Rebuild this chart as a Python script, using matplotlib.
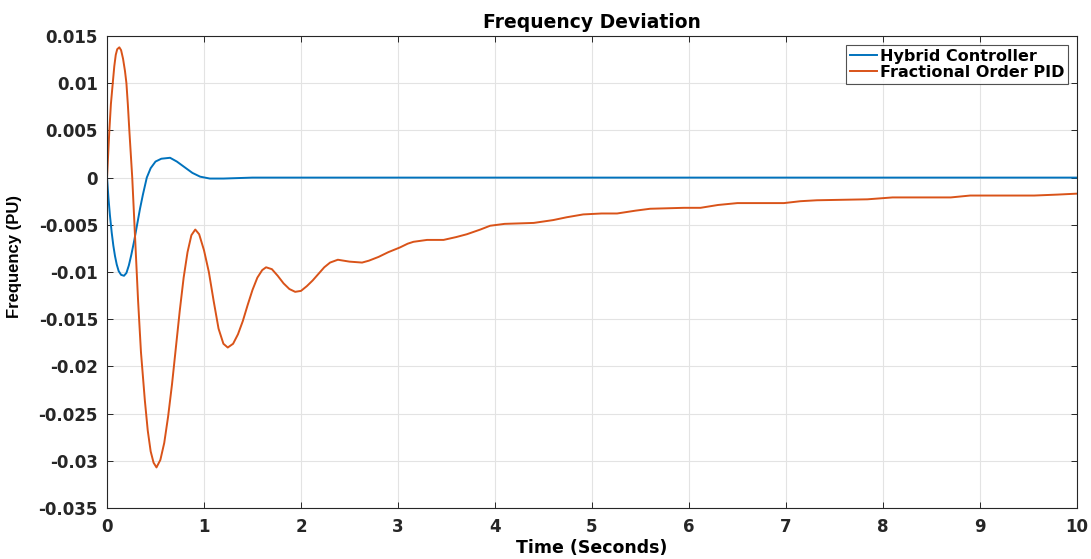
import matplotlib.pyplot as plt
import numpy as np

# values
t_hybrid = [0.0, 0.015, 0.03, 0.048, 0.065, 0.082, 0.10, 0.12, 0.145, 0.175, 0.20, 0.225,
            0.25, 0.28, 0.31, 0.34, 0.37, 0.41, 0.45, 0.50, 0.56, 0.65, 0.72, 0.80, 0.88,
            0.96, 1.06, 1.2, 1.5, 2.0, 10.0]
f_hybrid = [0.0, -0.0022, -0.0040, -0.0058, -0.0072, -0.0083, -0.0092, -0.0099, -0.0103, -0.0104, -0.0101, -0.0093,
            -0.0082, -0.0067, -0.0050, -0.0033, -0.0018, 0.0, 0.0010, 0.0017, 0.0020, 0.0021, 0.0017, 0.0011, 0.0005,
            0.0001, -0.0001, -0.0001, 0.0, 0.0, 0.0]

t_fopid = [0.0, 0.012, 0.024, 0.04, 0.059, 0.075, 0.09, 0.105, 0.127, 0.145, 0.165, 0.185,
           0.20, 0.215, 0.23, 0.245, 0.26, 0.29, 0.32, 0.35, 0.39, 0.42, 0.45, 0.48,
           0.51, 0.55, 0.59, 0.63, 0.67, 0.71, 0.75, 0.79, 0.83, 0.87, 0.91,
           0.95, 1.00, 1.05, 1.10, 1.15, 1.20, 1.245,
           1.30, 1.35, 1.40, 1.45, 1.50, 1.55, 1.60, 1.64,
           1.70, 1.76, 1.82, 1.88, 1.94,
           2.00, 2.06, 2.12, 2.18, 2.24, 2.30, 2.38,
           2.50, 2.63, 2.70, 2.80, 2.90, 3.02, 3.10, 3.16, 3.30, 3.47, 3.60, 3.71,
           3.85, 3.95, 4.10, 4.40, 4.60, 4.74, 4.91, 5.10, 5.26, 5.45, 5.60, 5.95,
           6.12, 6.30, 6.50, 6.98, 7.15, 7.32, 7.84, 8.10, 8.36, 8.70, 8.90, 9.04,
           9.56, 9.80, 10.0]
f_fopid = [0.0, 0.0025, 0.0050, 0.0078, 0.0100, 0.0118, 0.0130, 0.0136, 0.0138, 0.0135, 0.0126, 0.0113,
           0.0100, 0.0077, 0.0050, 0.0025, 0.0, -0.0065, -0.0130, -0.0185, -0.0236, -0.0268, -0.0290, -0.0302,
           -0.0307, -0.0299, -0.0281, -0.0253, -0.0219, -0.0180, -0.0141, -0.0106, -0.0079, -0.0061, -0.0055,
           -0.0060, -0.0077, -0.0100, -0.0131, -0.0160, -0.0176, -0.0180,
           -0.0176, -0.0166, -0.0152, -0.0135, -0.0119, -0.0106, -0.0098, -0.0095,
           -0.0097, -0.0104, -0.0112, -0.0118, -0.0121,
           -0.0120, -0.0115, -0.0109, -0.0102, -0.0095, -0.0090, -0.0087,
           -0.0089, -0.0090, -0.0088, -0.0084, -0.0079, -0.0074, -0.0070, -0.0068, -0.0066, -0.0066, -0.0063, -0.0060,
           -0.0055, -0.0051, -0.0049, -0.0048, -0.0045, -0.0042, -0.0039, -0.0038, -0.0038, -0.0035, -0.0033, -0.0032,
           -0.0032, -0.0029, -0.0027, -0.0027, -0.0025, -0.0024, -0.0023, -0.0021, -0.0021, -0.0021, -0.0019, -0.0019,
           -0.0019, -0.0018, -0.0017]

xticks = np.arange(0, 11, 1)
yticks = [0.015, 0.01, 0.005, 0, -0.005, -0.01, -0.015, -0.02, -0.025, -0.03, -0.035]
ytick_labels = ["0.015", "0.01", "0.005", "0", "-0.005", "-0.01", "-0.015", "-0.02", "-0.025", "-0.03", "-0.035"]

plt.rcParams['font.family'] = ['DejaVu Sans']
plt.rcParams['font.weight'] = 'bold'

fig = plt.figure(figsize=(10.91, 5.59), dpi=100)
ax = fig.add_axes([0.0981, 0.0912, 0.8889, 0.8444])

ax.plot(t_hybrid, f_hybrid, color='#0072BD', lw=1.4, label='Hybrid Controller')
ax.plot(t_fopid, f_fopid, color='#D95319', lw=1.4, label='Fractional Order PID')

ax.set_xlim(0, 10)
ax.set_ylim(-0.035, 0.015)
ax.set_xticks(xticks)
ax.set_yticks(yticks)
ax.set_yticklabels(ytick_labels)
ax.tick_params(direction='in', top=True, right=True, labelsize=12, length=4, width=0.7, colors='#262626')
ax.tick_params(axis='x', pad=7)
ax.tick_params(axis='y', pad=6.5)
for lab in ax.get_xticklabels() + ax.get_yticklabels():
    lab.set_fontweight('bold')
ax.grid(True, color='#e3e3e3', lw=0.8)
for s in ax.spines.values():
    s.set_color('#262626')
    s.set_linewidth(0.8)

ax.set_title('Frequency Deviation', fontsize=13.5, fontweight='bold', pad=6)
ax.set_xlabel('Time (Seconds)', fontsize=12.5, fontweight='bold', labelpad=2)
ax.set_ylabel('Frequency (PU)', fontsize=12, fontweight='bold',
              family=['Liberation Sans', 'DejaVu Sans'])
ax.yaxis.set_label_coords(-0.088, 0.532)

leg = ax.legend(loc='upper right', fontsize=11.5, frameon=True, fancybox=False,
                handlelength=1.7, handletextpad=0.15, borderpad=0.25, labelspacing=0.05,
                borderaxespad=0.55)
leg.get_frame().set_edgecolor('#262626')
leg.get_frame().set_linewidth(0.8)
for txt in leg.get_texts():
    txt.set_fontweight('bold')

fig.savefig('out.png', dpi=100)
